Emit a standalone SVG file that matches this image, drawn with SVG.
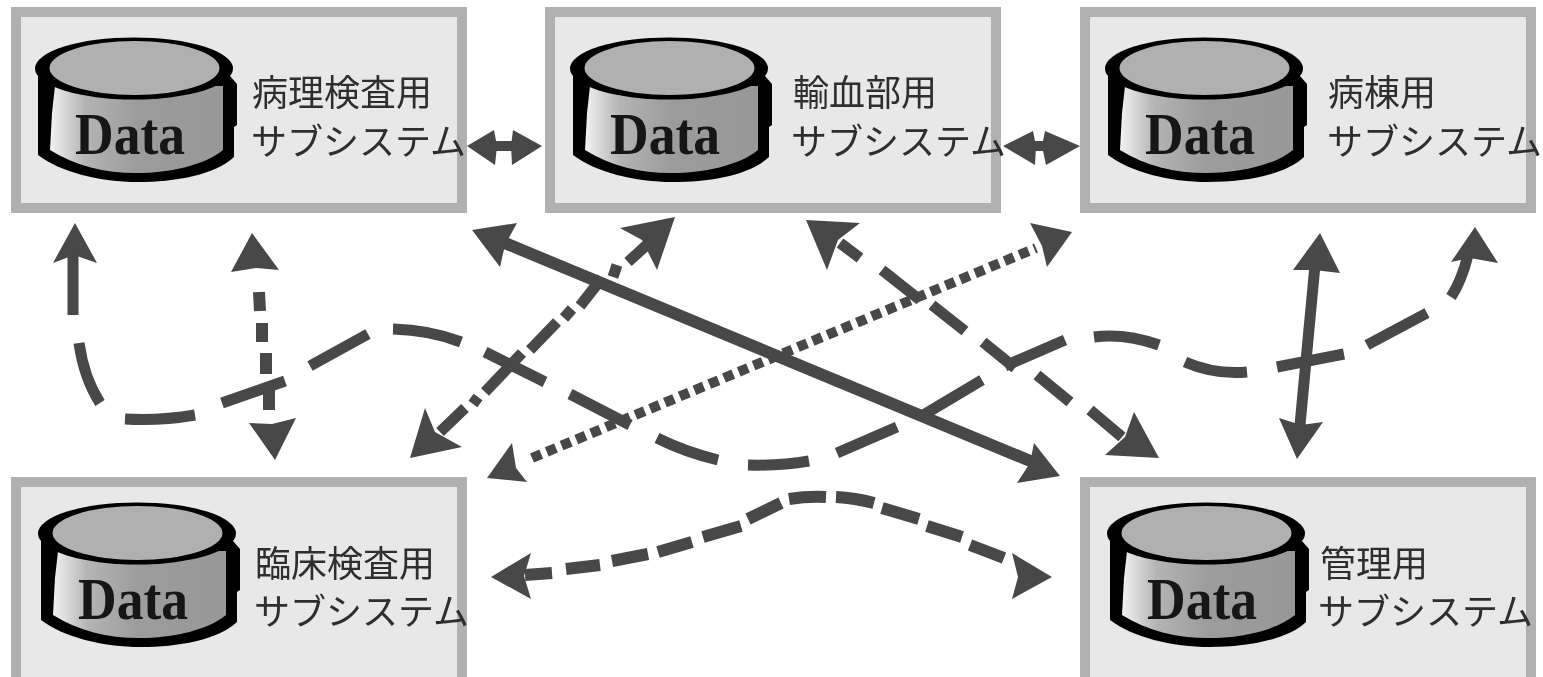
<svg xmlns="http://www.w3.org/2000/svg" xmlns:xlink="http://www.w3.org/1999/xlink" width="1543" height="677" viewBox="0 0 1543 677">
<style>
.box{fill:#e8e8e8;stroke:#b0b0b0;stroke-width:10}
.lbl{font-family:"Noto Sans CJK JP","Noto Sans CJK SC",sans-serif;font-size:36px;fill:#2e2e2e;filter:url(#soft)}
.data{font-family:"Liberation Serif",serif;font-weight:bold;font-size:60px;fill:#161616;filter:url(#soft)}
.c{fill:none;stroke:#484848;stroke-linecap:butt;stroke-linejoin:round}
.h{fill:#484848;stroke:none}
</style>
<defs>
<filter id="soft" x="-5%" y="-5%" width="110%" height="110%"><feGaussianBlur stdDeviation="0.6"/></filter>
<linearGradient id="cylGrad" gradientUnits="userSpaceOnUse" x1="50" y1="0" x2="223" y2="0">
<stop offset="0" stop-color="#f2f2f2"/><stop offset="0.2" stop-color="#b4b4b4"/><stop offset="0.5" stop-color="#9c9c9c"/><stop offset="1" stop-color="#989898"/>
</linearGradient>
<g id="cyl">
<path d="M38,72 L38,155 C60,172 100,182 138,182 C175,182 215,175 234,157 L234,127 L237,125 L237,84 L230,76 Z" fill="#000"/>
<path d="M55,86 L223,86 L223,150 C205,165 170,173 136,173 C105,173 75,166 50,150 L52,113 Z" fill="url(#cylGrad)"/>
<ellipse cx="134" cy="68.500" rx="99" ry="31" fill="#000"/>
<ellipse cx="134.500" cy="68" rx="85" ry="27" fill="#b0b0b0"/>
<text class="data" x="75" y="154" textLength="110" lengthAdjust="spacingAndGlyphs">Data</text>
</g>
</defs>
<rect width="1543" height="677" fill="#fff"/>
<g id="node-byori">
<rect class="box" x="16" y="12" width="446" height="196"/>
<use xlink:href="#cyl" href="#cyl"/>
<text class="lbl" x="252" y="106">病理検査用</text>
<text class="lbl" x="251" y="155">サブシステム</text>
</g>
<g id="node-yuketsu">
<rect class="box" x="550" y="12" width="446" height="196"/>
<use xlink:href="#cyl" href="#cyl" x="535"/>
<text class="lbl" x="793" y="106">輸血部用</text>
<text class="lbl" x="791" y="155">サブシステム</text>
</g>
<g id="node-byoto">
<rect class="box" x="1085" y="12" width="446" height="196"/>
<use xlink:href="#cyl" href="#cyl" x="1070"/>
<text class="lbl" x="1328" y="106">病棟用</text>
<text class="lbl" x="1327" y="155">サブシステム</text>
</g>
<g id="node-rinsho">
<rect class="box" x="16" y="482" width="446" height="200"/>
<use xlink:href="#cyl" href="#cyl" x="3" y="465"/>
<text class="lbl" x="255" y="577">臨床検査用</text>
<text class="lbl" x="254" y="625">サブシステム</text>
</g>
<g id="node-kanri">
<rect class="box" x="1085" y="482" width="446" height="200"/>
<use xlink:href="#cyl" href="#cyl" x="1072" y="465"/>
<text class="lbl" x="1320" y="577">管理用</text>
<text class="lbl" x="1318" y="625">サブシステム</text>
</g>
<g id="connectors">
<path class="c" stroke-width="10" d="M490,146H520"/>
<path class="h" d="M467,146L494,130L497,146L495,165Z"/>
<path class="h" d="M542,146L513,130L511,146L512,165Z"/>
<path class="c" stroke-width="10" d="M1028,146H1052"/>
<path class="h" d="M1003,146L1033,131L1036,146L1035,165Z"/>
<path class="h" d="M1080,146L1045,131L1042,146L1046,165Z"/>
<path class="c" stroke-width="11" d="M73,255V315M79,343Q84,378 100,403M125,419Q160,421 195,415M222,403L285,381M310,366L368,334M393,329Q430,330 461,342M485,352L545,382M570,394L630,425M657,438Q685,452 718,460M748,465Q780,466 809,461M837,453L897,427M920,417L982,380M1005,366L1065,340M1094,337Q1125,333 1159,345M1185,362Q1215,375 1247,372M1277,367L1344,354M1367,345L1427,313M1451,297Q1462,280 1468,255"/>
<path class="h" d="M75,223L97,263L74,255L53,263Z"/>
<path class="h" d="M1475,227L1498,263L1470,258L1451,262Z"/>
<path class="c" stroke-width="12" d="M257,262V268M259,292L260,311M262,323V342M266,353V374M269,385V410"/>
<path class="h" d="M252,233L279,270L256,268L231,272Z"/>
<path class="h" d="M275,460L296,418L272,424L249,423Z"/>
<path class="c" stroke-width="12" d="M500,241L1035,463"/>
<path class="h" d="M472,230L517,223L505,245L500,267Z"/>
<path class="h" d="M1060,476L1034,443L1030,463L1017,483Z"/>
<path class="c" stroke-width="11" d="M650,242L628,262M617,265L613,277M602,278L580,306M572,309L564,318M557,322L530,350M522,353L485,392M478,397L473,404M465,408L440,432"/>
<path class="h" d="M675,217L620,228L642,240L657,270Z"/>
<path class="h" d="M410,458L425,408L435,432L462,447Z"/>
<path class="c" stroke-width="10" stroke-dasharray="10 6" d="M532,458L1036,248"/>
<path class="h" d="M487,478L512,443L516,468L527,482Z"/>
<path class="h" d="M1072,232L1030,223L1042,246L1047,267Z"/>
<path class="c" stroke-width="11" d="M840,243L860,258M882,270L920,300M932,305L965,331M983,342L1015,368M1037,375L1070,402M1090,410L1122,437"/>
<path class="h" d="M806,220L860,223L838,240L827,270Z"/>
<path class="h" d="M1159,458L1134,412L1125,437L1105,455Z"/>
<path class="c" stroke-width="11" d="M1315,265L1300,425"/>
<path class="h" d="M1320,233L1340,273L1314,270L1293,270Z"/>
<path class="h" d="M1297,459L1279,418L1301,425L1323,422Z"/>
<path class="c" stroke-width="12" d="M525,575L552,573M566,569L600,565M612,561L648,554M658,552L692,542M703,537L741,526M748,519L781,503M789,499Q808,496 826,497M836,497Q855,498 874,503M882,508L919,519M927,526L962,537M970,545L1004,558"/>
<path class="h" d="M491,577L531,553L524,576L531,599Z"/>
<path class="h" d="M1052,577L1012,553L1018,577L1012,599Z"/>
</g>
</svg>
